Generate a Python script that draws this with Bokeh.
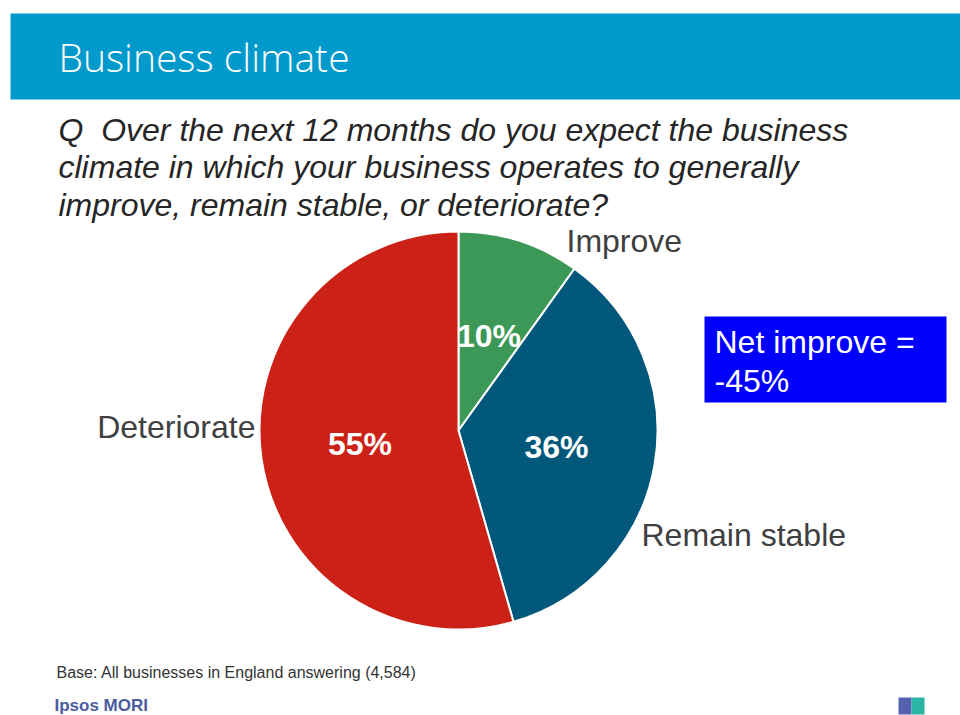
import math
from bokeh.plotting import figure
from bokeh.models import Range1d, ColumnDataSource
from bokeh.core.properties import value
from bokeh.embed import file_html
from bokeh.resources import INLINE

# ---- data ----
categories = ["Improve", "Remain stable", "Deteriorate"]
shares = [10, 36, 55]
pct_labels = ["10%", "36%", "55%"]
colors = ["#3C9856", "#02587A", "#CC2116"]
title_text = "Business climate"
question_lines = [
    "Q\u00a0\u00a0Over the next 12 months do you expect the business",
    "climate in which your business operates to generally",
    "improve, remain stable, or deteriorate?",
]
net_lines = ["Net improve =", "-45%"]
base_text = "Base: All businesses in England answering (4,584)"
brand_text = "Ipsos MORI"

# ---- layout ----
W, H = 960, 715
p = figure(width=W, height=H, output_backend="svg", toolbar_location=None,
           x_range=Range1d(0, W), y_range=Range1d(H, 0),
           min_border=0, x_axis_location=None, y_axis_location=None)
p.grid.visible = False
p.outline_line_color = None
p.background_fill_color = "white"
p.border_fill_color = "white"

FONT = value("Liberation Sans")

# header bar
p.quad(left=10, right=W, top=13, bottom=99, fill_color="#0099CC", line_color=None)
p.text(x=[58], y=[56], text=[title_text],
       text_font=value("'DejaVu Sans ExtraLight', 'Open Sans Light'"),
       text_font_size="39px", text_color="white", text_baseline="middle", text_align="left")

# question
q_mid = [129, 166.5, 204]
p.text(x=[58] * 3, y=q_mid, text=question_lines, text_font=FONT, text_font_size="32px",
       text_font_style="italic", text_color="#262626", text_baseline="middle")

# pie
cx, cy, R = 458, 430, 199
total = float(sum(shares))
starts, ends, mids = [], [], []
acc = 0.0
for s in shares:
    a0 = acc / total * 2 * math.pi
    acc += s
    a1 = acc / total * 2 * math.pi
    starts.append(math.pi / 2 - a0)
    ends.append(math.pi / 2 - a1)
    mids.append((a0 + a1) / 2)
src = ColumnDataSource(dict(start=starts, end=ends, color=colors, cat=categories))
p.wedge(x=cx, y=cy, radius=R, start_angle="start", end_angle="end", direction="clock",
        fill_color="color", line_color="white", line_width=2, source=src)

# percentage labels inside slices
r_lab = 0.5 * R
lx = [cx + r_lab * math.sin(m) for m in mids]
ly = [cy - r_lab * math.cos(m) for m in mids]
p.text(x=lx, y=ly, text=pct_labels, text_font=FONT, text_font_size="32px",
       text_font_style="bold", text_color="white", text_align="center",
       text_baseline="middle")

# category labels outside
cat_x = [566, 641, 255]
cat_y = [240, 534, 426]
cat_align = ["left", "left", "right"]
p.text(x=cat_x, y=cat_y, text=categories, text_font=FONT, text_font_size="32px",
       text_color="#404040", text_baseline="middle", text_align=cat_align)

# net improve box
p.quad(left=704, right=946, top=316, bottom=402, fill_color="#0000FF", line_color=None)
p.text(x=[714, 714], y=[341.5, 380.5], text=net_lines, text_font=FONT, text_font_size="32px",
       text_color="white", text_baseline="middle")

# footer
p.text(x=[56], y=[672], text=[base_text], text_font=FONT, text_font_size="16px",
       text_color="#333333", text_baseline="middle")
p.text(x=[54], y=[704.5], text=[brand_text], text_font=FONT, text_font_size="17px",
       text_font_style="bold", text_color="#4A5C9E", text_baseline="middle")

# small logo
p.quad(left=898, right=911, top=697, bottom=714, fill_color="#5560B0", line_color=None)
p.quad(left=911, right=924, top=697, bottom=714, fill_color="#2AB5A5", line_color=None)

open("out.html", "w").write(file_html(p, INLINE))
